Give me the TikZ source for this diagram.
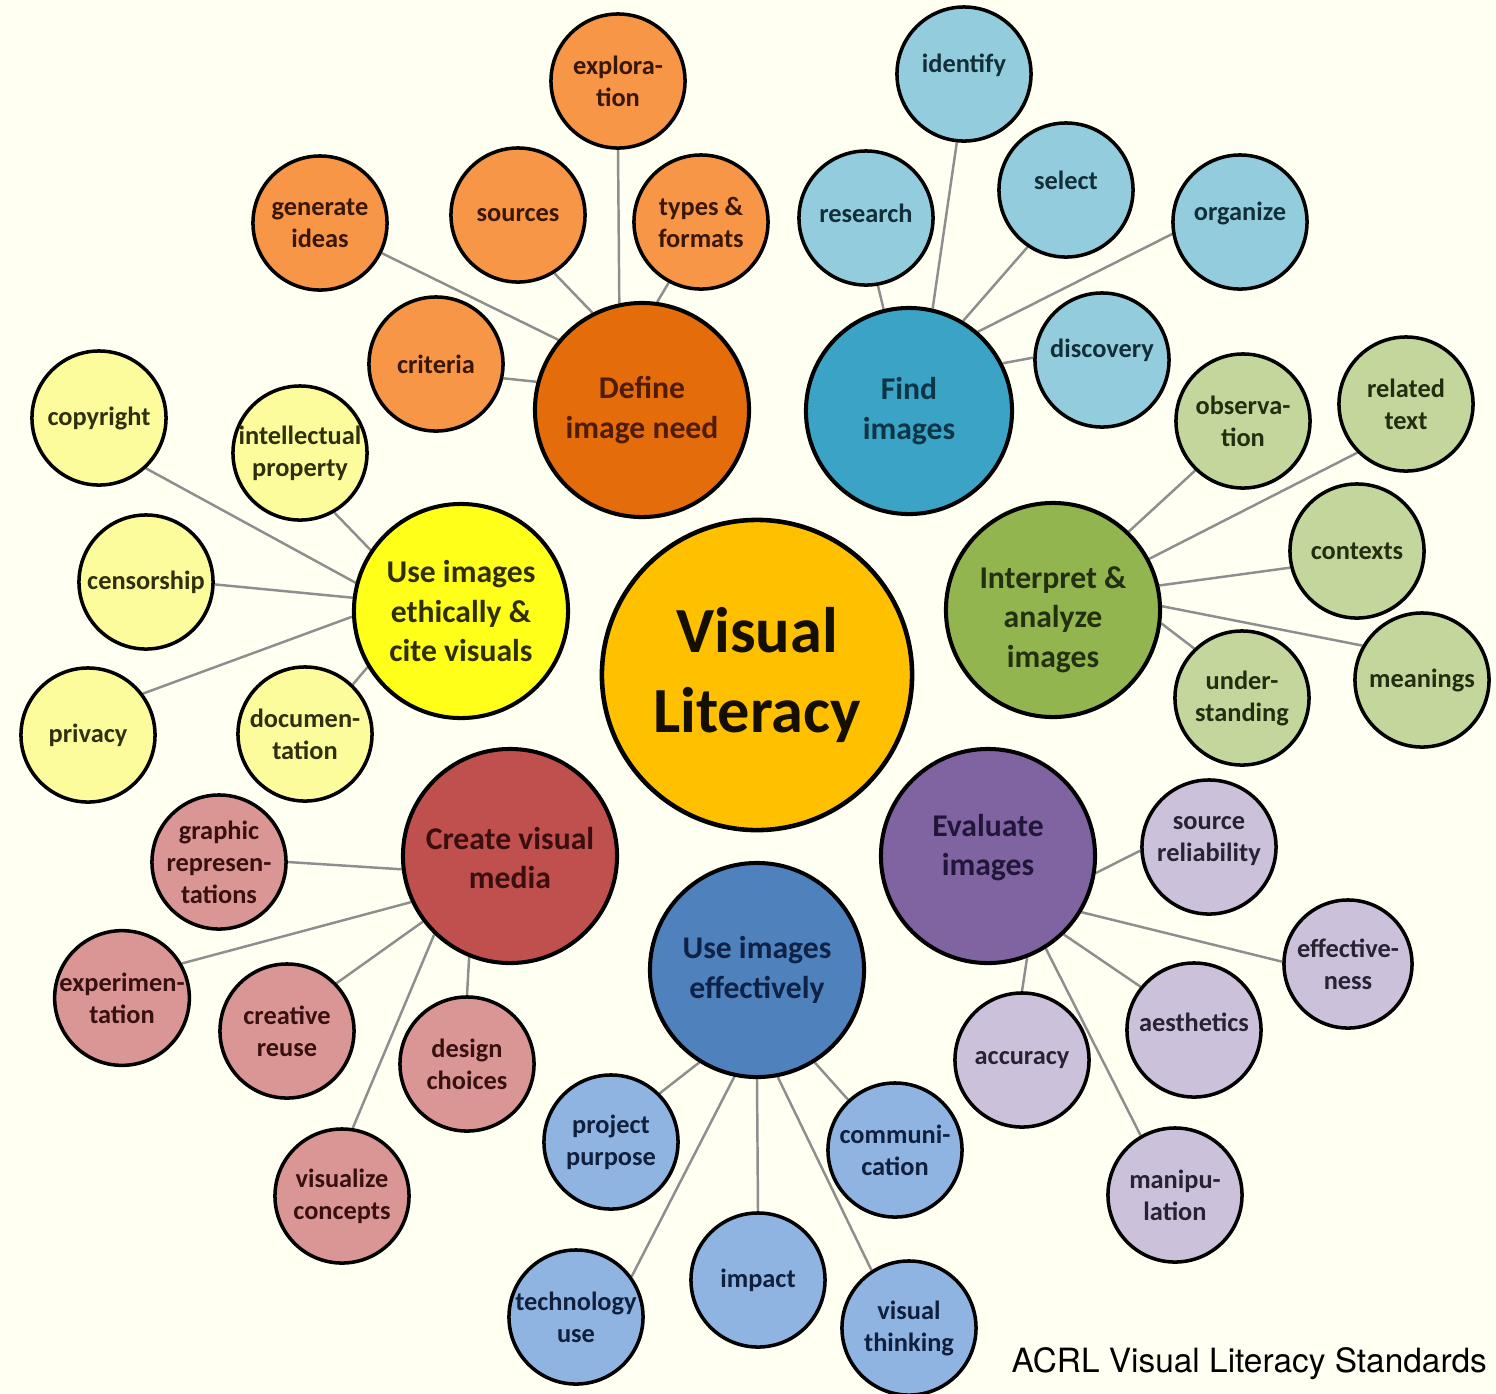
\documentclass[tikz,border=0pt]{standalone}
\usepackage{fontspec}
\setmainfont{Carlito}
\newfontfamily\capfont{TeX Gyre Heros}
\usetikzlibrary{backgrounds}
\definecolor{bgc}{HTML}{FFFFF2}
\definecolor{orM}{HTML}{E46C0A}\definecolor{orS}{HTML}{F79646}
\definecolor{orT}{HTML}{4F1C00}\definecolor{orTs}{HTML}{3A1604}
\definecolor{fiM}{HTML}{3AA3C6}\definecolor{fiS}{HTML}{93CDDD}
\definecolor{fiT}{HTML}{0E3546}\definecolor{fiTs}{HTML}{122E38}
\definecolor{grM}{HTML}{93B550}\definecolor{grS}{HTML}{C3D69B}
\definecolor{grT}{HTML}{223010}\definecolor{grTs}{HTML}{232D10}
\definecolor{yeM}{HTML}{FFFF1A}\definecolor{yeS}{HTML}{FCFC9C}
\definecolor{yeT}{HTML}{2E2E00}\definecolor{yeTs}{HTML}{30300E}
\definecolor{reM}{HTML}{C0504D}\definecolor{reS}{HTML}{DA9694}
\definecolor{reT}{HTML}{3A0E0E}\definecolor{reTs}{HTML}{381010}
\definecolor{puM}{HTML}{8064A2}\definecolor{puS}{HTML}{CCC1DA}
\definecolor{puT}{HTML}{21163A}\definecolor{puTs}{HTML}{282233}
\definecolor{blM}{HTML}{4F81BD}\definecolor{blS}{HTML}{8FB4E2}
\definecolor{blT}{HTML}{0E2146}\definecolor{blTs}{HTML}{101F3C}
\definecolor{vlM}{HTML}{FFC000}
\definecolor{linkc}{HTML}{8E8E8E}
\newcommand{\liftup}[2]{\raisebox{#1}[\height][\depth]{#2}}
\newcommand{\stack}[1]{\begin{tabular}{@{}c@{}}#1\end{tabular}}
\begin{document}
\begin{tikzpicture}[x=0.01cm,y=-0.01cm,
  main/.style={circle, draw=black, line width=1.15pt, minimum size=2.14cm, inner sep=0pt, align=center, font=\bfseries\fontsize{9}{11.3}\selectfont},
  sub/.style={circle, draw=black, line width=1pt, minimum size=1.34cm, inner sep=0pt, align=center, font=\bfseries\fontsize{7.5}{9.1}\selectfont},
  link/.style={draw=linkc, line width=0.7pt},
  orm/.style={main, fill=orM, text=orT}, ors/.style={sub, fill=orS, text=orTs},
  fim/.style={main, fill=fiM, text=fiT}, fis/.style={sub, fill=fiS, text=fiTs},
  grm/.style={main, fill=grM, text=grT}, grs/.style={sub, fill=grS, text=grTs},
  yem/.style={main, fill=yeM, text=yeT}, yes/.style={sub, fill=yeS, text=yeTs},
  rem/.style={main, fill=reM, text=reT}, res/.style={sub, fill=reS, text=reTs},
  pum/.style={main, fill=puM, text=puT}, pus/.style={sub, fill=puS, text=puTs},
  blm/.style={main, fill=blM, text=blT}, bls/.style={sub, fill=blS, text=blTs}
]
\useasboundingbox (0,0) rectangle (1496,1393);

% centre
\node[circle, draw=black, line width=1.3pt, fill=vlM, minimum size=3.1cm, inner sep=0pt, align=center,
      font=\bfseries\fontsize{18.3}{22.8}\selectfont, text=black!92!vlM] (VL) at (757,675) {Visual\\Literacy};

% Define image need
\node[orm] (D) at (642,410) {Define\\image need};
\node[ors] (expl) at (618,81) {explora-\\tion};
\node[ors] (gen) at (320,223) {generate\\ideas};
\node[ors] (src) at (518,215) {sources};
\node[ors] (typ) at (701,222) {types \&\\formats};
\node[ors] (crit) at (436,364) {criteria};

% Find images
\node[fim, minimum size=2.06cm] (F) at (909,411) {Find\\images};
\node[fis] (ident) at (964,74) {\liftup{0.09cm}{identify}};
\node[fis] (rsch) at (866,218) {\liftup{0.05cm}{research}};
\node[fis] (sel) at (1066,190) {\liftup{0.1cm}{select}};
\node[fis] (org) at (1240,222) {\liftup{0.09cm}{organize}};
\node[fis] (disc) at (1102,360) {\liftup{0.1cm}{discovery}};

% Interpret & analyze images
\node[grm] (I) at (1053,610) {\liftup{-0.1cm}{\stack{Interpret \&\\analyze\\images}}};
\node[grs] (obs) at (1243,421) {observa-\\tion};
\node[grs] (rel) at (1406,404) {related\\text};
\node[grs] (ctx) at (1357,551) {contexts};
\node[grs] (mean) at (1422,680) {meanings};
\node[grs] (und) at (1242,698) {under-\\standing};

% Evaluate images
\node[pum] (E) at (988,856) {\liftup{0.08cm}{\stack{Evaluate\\images}}};
\node[pus] (srel) at (1209,847) {\liftup{0.08cm}{\stack{source\\reliability}}};
\node[pus, minimum size=1.28cm] (eff) at (1348,964) {effective-\\ness};
\node[pus] (aes) at (1194,1030) {\liftup{0.08cm}{aesthetics}};
\node[pus] (acc) at (1022,1060) {accuracy};
\node[pus] (man) at (1175,1195) {manipu-\\lation};

% Use images effectively
\node[blm] (U) at (757,970) {Use images\\effectively};
\node[bls] (pp) at (611,1142) {project\\purpose};
\node[bls] (com) at (895,1150) {communi-\\cation};
\node[bls] (imp) at (758,1280) {impact};
\node[bls] (tech) at (576,1317) {technology\\use};
\node[bls] (vis) at (909,1328) {visual\\thinking};

% Create visual media
\node[rem] (C) at (510,856) {\liftup{-0.05cm}{\stack{Create visual\\media}}};
\node[res] (gr) at (219,862) {graphic\\represen-\\tations};
\node[res] (expm) at (122,998) {experimen-\\tation};
\node[res] (cr) at (287,1031) {creative\\reuse};
\node[res] (dc) at (467,1064) {design\\choices};
\node[res] (vc) at (342,1196) {visualize\\concepts};

% Use images ethically
\node[yem] (UE) at (461,611) {Use images\\ethically \&\\cite visuals};
\node[yes] (copy) at (99,418) {copyright};
\node[yes, minimum size=1.3cm] (ip) at (300,453) {intellectual\\property};
\node[yes] (cen) at (146,582) {censorship};
\node[yes] (priv) at (88,735) {privacy};
\node[yes] (doc) at (305,734) {documen-\\tation};

% caption
\node[anchor=base west, inner sep=0pt, font=\capfont\fontsize{9.5}{11}\selectfont, text=black] (cap) at (1011,1372) {ACRL Visual Literacy Standards};

\begin{scope}[on background layer]
\fill[bgc] (0,0) rectangle (1496,1393);
% Define
\draw[link] (D.102) -- (expl.270);
\draw[link] (D.140) -- (gen.-26);
\draw[link] (D.117) -- (src.-58);
\draw[link] (D.82) -- (typ.242);
\draw[link] (D.165) -- (crit.-12);
% Find
\draw[link] (F.104) -- (rsch.-80);
\draw[link] (F.77) -- (ident.264);
\draw[link] (F.59) -- (sel.236);
\draw[link] (F.49) -- (org.190);
\draw[link] (F.27) -- (disc.178);
% Interpret
\draw[link] (I.46) -- (obs.226);
\draw[link] (I.28) -- (rel.225);
\draw[link] (I.13) -- (ctx.194);
\draw[link] (I.2) -- (mean.150);
\draw[link] (I.-7) -- (und.134);
% Evaluate
\draw[link] (E.-9) -- (srel.183);
\draw[link] (E.-31) -- (eff.178);
\draw[link] (E.-46) -- (aes.141);
\draw[link] (E.-69) -- (acc.90);
\draw[link] (E.-58) -- (man.120);
% Use effectively
\draw[link] (U.238) -- (pp.45);
\draw[link] (U.258) -- (tech.36);
\draw[link] (U.270) -- (imp.90);
\draw[link] (U.281) -- (vis.123);
\draw[link] (U.302) -- (com.133);
% Create
\draw[link] (C.187) -- (gr.0);
\draw[link] (C.205) -- (expm.30);
\draw[link] (C.217) -- (cr.44);
\draw[link] (C.226) -- (vc.81);
\draw[link] (C.248) -- (dc.90);
% Ethically
\draw[link] (UE.165) -- (copy.-47);
\draw[link] (UE.146) -- (ip.-60);
\draw[link] (UE.173) -- (cen.-2);
\draw[link] (UE.183) -- (priv.37);
\draw[link] (UE.211) -- (doc.46);
\end{scope}
\end{tikzpicture}
\end{document}
